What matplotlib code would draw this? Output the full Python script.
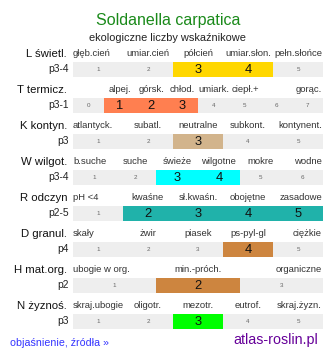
import matplotlib
matplotlib.use("Agg")
import matplotlib.pyplot as plt

plt.rcParams["font.family"] = ["Liberation Sans", "DejaVu Sans"]

# dane
title = "Soldanella carpatica"
subtitle = "ekologiczne liczby wskaźnikowe"

row_names = ["L świetl.", "T termicz.", "K kontyn.", "W wilgot.",
             "R odczyn", "D granul.", "H mat.org.", "N żyznoś."]
row_codes = ["p3-4", "p3-1", "p3", "p3-4", "p2-5", "p4", "p2", "p3"]

scale_L = [1, 2, 3, 4, 5]
scale_T = [0, 1, 2, 3, 4, 5, 6, 7]
scale_K = [1, 2, 3, 4, 5]
scale_W = [1, 2, 3, 4, 5, 6]
scale_R = [1, 2, 3, 4, 5]
scale_D = [1, 2, 3, 4, 5]
scale_H = [1, 2, 3]
scale_N = [1, 2, 3, 4, 5]

labels_L = ["głęb.cień", "umiar.cień", "półcień", "umiar.słon.", "pełn.słońce"]
labels_T = ["", "alpej.", "górsk.", "chłod.", "umiark.", "ciepł.+", "", "gorąc."]
labels_K = ["atlantyck.", "subatl.", "neutralne", "subkont.", "kontynent."]
labels_W = ["b.suche", "suche", "świeże", "wilgotne", "mokre", "wodne"]
labels_R = ["pH <4", "kwaśne", "sł.kwaśn.", "obojętne", "zasadowe"]
labels_D = ["skały", "żwir", "piasek", "ps-pyl-gl", "ciężkie"]
labels_H = ["ubogie w org.", "min.-próch.", "organiczne"]
labels_N = ["skraj.ubogie", "oligotr.", "mezotr.", "eutrof.", "skraj.żyzn."]

active_L = [3, 4]
active_T = [1, 2, 3]
active_K = [3]
active_W = [3, 4]
active_R = [2, 3, 4, 5]
active_D = [4]
active_H = [2]
active_N = [3]

colors = ["#ffd700", "#ff7f50", "#d2b48c", "#00ffff",
          "#20b2aa", "#cd853f", "#cd853f", "#00ff00"]

scales = [scale_L, scale_T, scale_K, scale_W, scale_R, scale_D, scale_H, scale_N]
labels = [labels_L, labels_T, labels_K, labels_W, labels_R, labels_D, labels_H, labels_N]
actives = [active_L, active_T, active_K, active_W, active_R, active_D, active_H, active_N]

# uklad (piksele)
W, H = 334, 358
x0, x1 = 73, 323
top0, step, bh = 62, 36, 15

fig = plt.figure(figsize=(W / 100, H / 100), dpi=100)
ax = fig.add_axes([0, 0, 1, 1])
ax.set_xlim(0, W)
ax.set_ylim(H, 0)
ax.axis("off")

ax.text(168, 20, title, color="#1a8a1a", fontsize=11.5, ha="center", va="center")
ax.text(167, 38, subtitle, color="#222222", fontsize=7.9, ha="center", va="center")

for i in range(len(row_names)):
    top = top0 + i * step
    sc = scales[i]
    n = len(sc)
    cw = (x1 - x0) / n
    ax.text(67, top - 8, row_names[i], fontsize=8.2, ha="right", va="center", color="#111111")
    ax.text(69, top + bh / 2, row_codes[i], fontsize=7.4, ha="right", va="center", color="#222222")
    for j, v in enumerate(sc):
        left = x0 + j * cw
        on = v in actives[i]
        ax.barh(top + bh / 2, cw, left=left, height=bh,
                color=colors[i] if on else "#eeeeee", linewidth=0)
        cx = left + cw / 2
        if on:
            ax.text(cx, top + bh / 2 + 0.5, str(v), fontsize=9.3, ha="center", va="center",
                    color="#111111")
        else:
            ax.text(cx, top + bh / 2, str(v), fontsize=4.5, ha="center", va="center",
                    color="#666666")
        lab = labels[i][j]
        if lab:
            if j == 0:
                ax.text(x0, top - 8, lab, fontsize=6.8, ha="left", va="center", color="#333333")
            elif j == n - 1:
                ax.text(x1 - 1, top - 8, lab, fontsize=6.8, ha="right", va="center", color="#333333")
            else:
                ax.text(cx, top - 8, lab, fontsize=6.8, ha="center", va="center", color="#333333")

ax.text(10, 343, "objaśnienie, źródła »", fontsize=7.7, color="#3333ff", ha="left", va="center")
ax.text(318, 340, "atlas-roslin.pl", fontsize=10.3, color="#660099", ha="right", va="center")

fig.savefig("out.png", dpi=100)
